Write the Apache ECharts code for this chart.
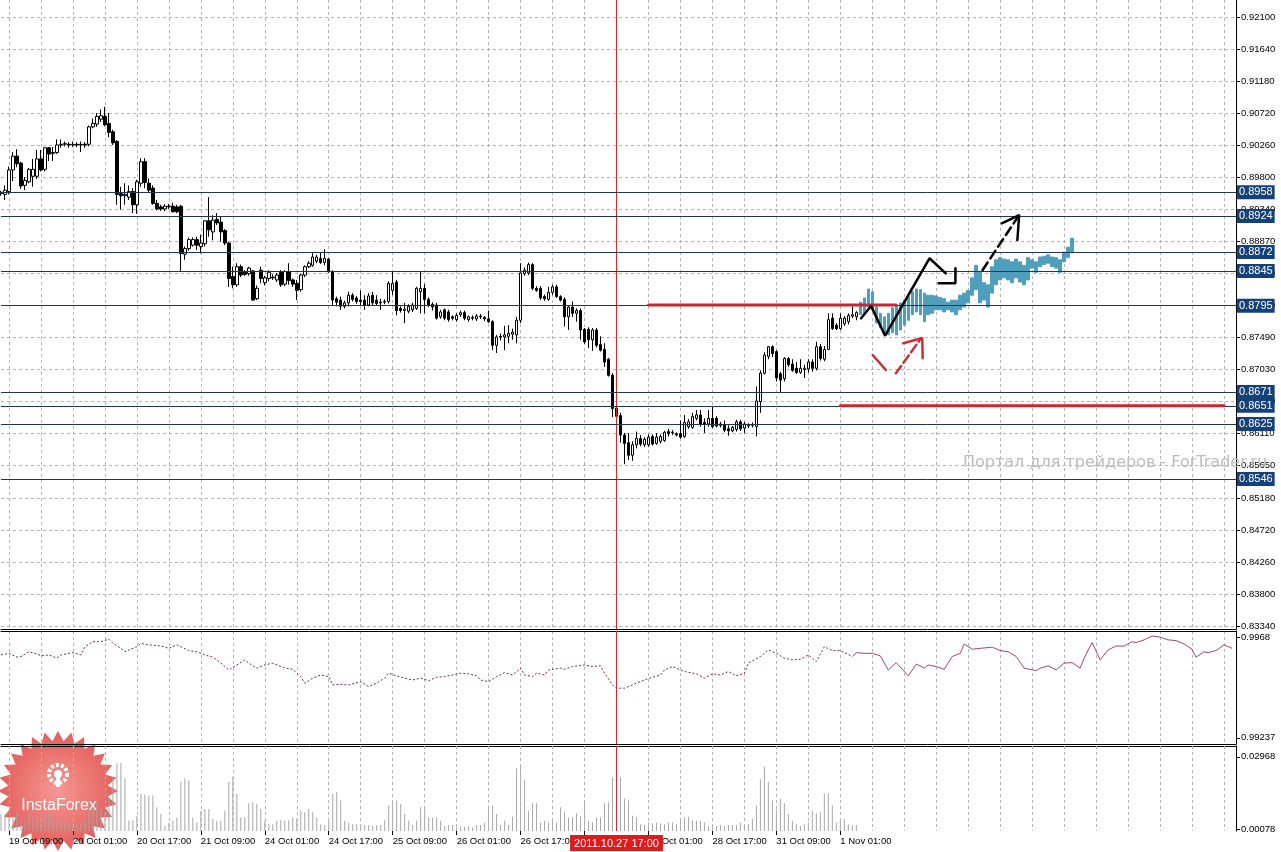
<!DOCTYPE html>
<html><head><meta charset="utf-8">
<script src="https://cdn.jsdelivr.net/npm/echarts@6/dist/echarts.min.js"></script>
<style>html,body{margin:0;padding:0;background:#fff;}#c{width:1281px;height:852px;}</style>
</head><body><div id="c"></div>
<script>
// ---------- data ----------
const timeLabels = ['19 Oct 09:00','20 Oct 01:00','20 Oct 17:00','21 Oct 09:00','24 Oct 01:00','24 Oct 17:00','25 Oct 09:00','26 Oct 01:00','26 Oct 17:00','27 Oct 09:00','28 Oct 01:00','28 Oct 17:00','31 Oct 09:00','1 Nov 01:00'];
const LABEL_START = 2, LABEL_STEP = 16, GRID_STEP = 8, BAR_SLOTS = 310;
const priceTicks = [0.92100,0.91640,0.91180,0.90720,0.90260,0.89800,0.89340,0.88870,0.88410,0.87950,0.87490,0.87030,0.86570,0.86110,0.85650,0.85180,0.84720,0.84260,0.83800,0.83340];
const levels = [0.8958,0.8924,0.8872,0.8845,0.8795,0.8671,0.8651,0.8625,0.8546];
// candles: [open, close, low, high]
const candles = [
[0.8956,0.8958,0.8953,0.8960],[0.8955,0.8961,0.8947,0.8968],[0.8959,0.8990,0.8955,0.8995],[0.8990,0.9010,0.8974,0.9016],
[0.9010,0.8999,0.8994,0.9020],[0.9000,0.8967,0.8963,0.9002],[0.8968,0.8975,0.8961,0.8980],[0.8973,0.8991,0.8971,0.8993],
[0.8981,0.8991,0.8966,0.9006],[0.8981,0.9006,0.8977,0.9019],[0.9006,0.8990,0.8988,0.9019],[0.8991,0.9022,0.8988,0.9023],
[0.9022,0.9013,0.9003,0.9023],[0.9015,0.9014,0.9003,0.9023],[0.9015,0.9026,0.9013,0.9034],[0.9026,0.9027,0.9022,0.9034],
[0.9027,0.9028,0.9024,0.9031],[0.9027,0.9026,0.9022,0.9030],[0.9026,0.9027,0.9023,0.9031],[0.9027,0.9026,0.9023,0.9030],
[0.9026,0.9027,0.9016,0.9031],[0.9027,0.9026,0.9022,0.9030],[0.9027,0.9052,0.9024,0.9054],[0.9052,0.9057,0.9050,0.9064],
[0.9056,0.9067,0.9052,0.9072],[0.9063,0.9068,0.9059,0.9077],[0.9067,0.9055,0.9053,0.9081],[0.9057,0.9044,0.9037,0.9072],
[0.9045,0.9029,0.9026,0.9048],[0.9031,0.8955,0.8940,0.9033],[0.8956,0.8953,0.8933,0.8966],[0.8953,0.8955,0.8940,0.8971],
[0.8951,0.8959,0.8947,0.8968],[0.8959,0.8940,0.8928,0.8964],[0.8940,0.8973,0.8927,0.8976],[0.8971,0.9002,0.8966,0.9007],
[0.9002,0.8972,0.8964,0.9007],[0.8971,0.8961,0.8957,0.8978],[0.8964,0.8942,0.8940,0.8968],[0.8942,0.8934,0.8932,0.8947],
[0.8937,0.8934,0.8931,0.8940],[0.8934,0.8938,0.8931,0.8941],[0.8938,0.8937,0.8934,0.8941],[0.8938,0.8930,0.8929,0.8943],
[0.8937,0.8930,0.8928,0.8940],[0.8938,0.8870,0.8844,0.8940],[0.8869,0.8877,0.8861,0.8880],[0.8877,0.8890,0.8874,0.8893],
[0.8882,0.8890,0.8880,0.8893],[0.8890,0.8882,0.8875,0.8894],[0.8880,0.8885,0.8870,0.8897],[0.8884,0.8917,0.8880,0.8918],
[0.8917,0.8904,0.8894,0.8951],[0.8901,0.8918,0.8889,0.8925],[0.8919,0.8914,0.8911,0.8928],[0.8915,0.8901,0.8887,0.8923],
[0.8903,0.8885,0.8882,0.8905],[0.8885,0.8834,0.8822,0.8887],[0.8837,0.8825,0.8820,0.8851],[0.8825,0.8851,0.8822,0.8856],
[0.8851,0.8839,0.8836,0.8854],[0.8843,0.8840,0.8838,0.8846],[0.8841,0.8849,0.8838,0.8851],[0.8845,0.8803,0.8802,0.8846],
[0.8805,0.8820,0.8803,0.8824],[0.8846,0.8834,0.8827,0.8851],[0.8828,0.8835,0.8824,0.8838],[0.8834,0.8843,0.8830,0.8846],
[0.8836,0.8835,0.8832,0.8840],[0.8832,0.8839,0.8829,0.8842],[0.8843,0.8825,0.8822,0.8846],[0.8826,0.8844,0.8823,0.8846],
[0.8844,0.8831,0.8825,0.8856],[0.8832,0.8826,0.8822,0.8834],[0.8827,0.8817,0.8803,0.8832],[0.8818,0.8839,0.8815,0.8841],
[0.8839,0.8851,0.8836,0.8853],[0.8851,0.8856,0.8849,0.8859],[0.8853,0.8865,0.8851,0.8871],[0.8859,0.8865,0.8856,0.8868],
[0.8863,0.8857,0.8855,0.8872],[0.8857,0.8863,0.8853,0.8876],[0.8862,0.8844,0.8842,0.8864],[0.8844,0.8803,0.8796,0.8846],
[0.8805,0.8800,0.8794,0.8808],[0.8803,0.8794,0.8789,0.8808],[0.8794,0.8799,0.8791,0.8802],[0.8799,0.8810,0.8794,0.8815],
[0.8810,0.8804,0.8801,0.8813],[0.8806,0.8801,0.8798,0.8809],[0.8803,0.8801,0.8796,0.8817],[0.8803,0.8796,0.8789,0.8810],
[0.8796,0.8809,0.8794,0.8813],[0.8810,0.8799,0.8796,0.8815],[0.8803,0.8798,0.8796,0.8810],[0.8799,0.8800,0.8789,0.8805],
[0.8800,0.8801,0.8797,0.8804],[0.8801,0.8827,0.8798,0.8830],[0.8817,0.8827,0.8810,0.8844],[0.8829,0.8788,0.8781,0.8832],
[0.8791,0.8788,0.8785,0.8794],[0.8788,0.8790,0.8770,0.8799],[0.8787,0.8794,0.8784,0.8797],[0.8789,0.8796,0.8786,0.8799],
[0.8791,0.8820,0.8789,0.8822],[0.8815,0.8820,0.8784,0.8844],[0.8820,0.8804,0.8784,0.8826],[0.8804,0.8796,0.8793,0.8807],
[0.8797,0.8793,0.8788,0.8800],[0.8796,0.8777,0.8775,0.8799],[0.8779,0.8786,0.8776,0.8789],[0.8789,0.8777,0.8774,0.8791],
[0.8786,0.8775,0.8772,0.8789],[0.8779,0.8777,0.8774,0.8781],[0.8775,0.8781,0.8772,0.8784],[0.8782,0.8785,0.8779,0.8788],
[0.8785,0.8777,0.8774,0.8788],[0.8775,0.8779,0.8772,0.8781],[0.8778,0.8777,0.8774,0.8781],[0.8776,0.8780,0.8773,0.8783],
[0.8780,0.8779,0.8776,0.8783],[0.8778,0.8776,0.8773,0.8780],[0.8776,0.8772,0.8770,0.8788],[0.8772,0.8738,0.8731,0.8774],
[0.8738,0.8750,0.8727,0.8753],[0.8751,0.8750,0.8745,0.8755],[0.8750,0.8753,0.8731,0.8766],[0.8751,0.8755,0.8741,0.8767],
[0.8754,0.8757,0.8746,0.8762],[0.8753,0.8774,0.8741,0.8779],[0.8774,0.8842,0.8770,0.8856],[0.8841,0.8846,0.8838,0.8850],
[0.8842,0.8854,0.8839,0.8857],[0.8854,0.8820,0.8817,0.8856],[0.8820,0.8817,0.8815,0.8823],[0.8820,0.8806,0.8803,0.8823],
[0.8808,0.8805,0.8802,0.8811],[0.8804,0.8814,0.8802,0.8822],[0.8814,0.8822,0.8810,0.8825],[0.8822,0.8808,0.8806,0.8825],
[0.8808,0.8803,0.8801,0.8810],[0.8804,0.8779,0.8765,0.8807],[0.8779,0.8793,0.8760,0.8796],[0.8793,0.8784,0.8779,0.8801],
[0.8784,0.8788,0.8772,0.8791],[0.8788,0.8760,0.8746,0.8791],[0.8761,0.8743,0.8740,0.8763],[0.8761,0.8746,0.8734,0.8764],
[0.8746,0.8760,0.8730,0.8763],[0.8760,0.8738,0.8735,0.8763],[0.8739,0.8731,0.8729,0.8751],[0.8732,0.8714,0.8707,0.8741],
[0.8718,0.8695,0.8693,0.8720],[0.8695,0.8647,0.8635,0.8698],[0.8648,0.8636,0.8634,0.8650],[0.8637,0.8609,0.8598,0.8641],
[0.8609,0.8597,0.8567,0.8612],[0.8598,0.8580,0.8573,0.8612],[0.8580,0.8595,0.8572,0.8600],[0.8595,0.8604,0.8590,0.8614],
[0.8604,0.8596,0.8593,0.8609],[0.8595,0.8603,0.8592,0.8606],[0.8595,0.8606,0.8592,0.8610],[0.8607,0.8596,0.8594,0.8610],
[0.8597,0.8606,0.8595,0.8612],[0.8600,0.8607,0.8597,0.8610],[0.8601,0.8613,0.8599,0.8615],[0.8614,0.8611,0.8607,0.8618],
[0.8612,0.8613,0.8609,0.8616],[0.8611,0.8609,0.8607,0.8613],[0.8611,0.8606,0.8604,0.8630],[0.8607,0.8627,0.8605,0.8638],
[0.8621,0.8628,0.8618,0.8632],[0.8620,0.8636,0.8618,0.8641],[0.8633,0.8638,0.8630,0.8645],[0.8638,0.8625,0.8621,0.8645],
[0.8627,0.8625,0.8612,0.8633],[0.8625,0.8633,0.8621,0.8645],[0.8633,0.8621,0.8619,0.8650],[0.8633,0.8622,0.8620,0.8636],
[0.8625,0.8623,0.8620,0.8628],[0.8624,0.8616,0.8613,0.8630],[0.8618,0.8615,0.8608,0.8623],[0.8615,0.8620,0.8613,0.8622],
[0.8617,0.8628,0.8614,0.8631],[0.8628,0.8618,0.8615,0.8631],[0.8619,0.8625,0.8612,0.8628],[0.8622,0.8623,0.8619,0.8626],
[0.8623,0.8624,0.8620,0.8627],[0.8621,0.8658,0.8607,0.8679],[0.8657,0.8698,0.8641,0.8702],[0.8698,0.8724,0.8696,0.8728],
[0.8722,0.8736,0.8718,0.8737],[0.8736,0.8726,0.8721,0.8738],[0.8729,0.8691,0.8686,0.8731],[0.8697,0.8688,0.8671,0.8700],
[0.8690,0.8719,0.8686,0.8721],[0.8719,0.8710,0.8707,0.8721],[0.8711,0.8702,0.8700,0.8718],[0.8705,0.8699,0.8697,0.8714],
[0.8699,0.8705,0.8697,0.8718],[0.8703,0.8705,0.8691,0.8710],[0.8704,0.8714,0.8699,0.8718],[0.8714,0.8705,0.8700,0.8718],
[0.8705,0.8736,0.8702,0.8743],[0.8736,0.8719,0.8716,0.8740],[0.8718,0.8732,0.8715,0.8737],[0.8732,0.8775,0.8731,0.8784],
[0.8777,0.8762,0.8760,0.8784],[0.8767,0.8762,0.8760,0.8770],[0.8762,0.8777,0.8760,0.8784],[0.8769,0.8777,0.8766,0.8780],
[0.8772,0.8781,0.8768,0.8784],[0.8780,0.8782,0.8777,0.8794],[0.8779,0.8785,0.8774,0.8787]
];
// forecast bars (cyan) starting at slot 215: [low, high]
const forecastStart = 215;
const forecastRanges = [
[0.8782,0.8800],[0.8784,0.8806],[0.8793,0.8819],[0.8789,0.8815],[0.8770,0.8793],[0.8763,0.8784],[0.8757,0.8779],[0.8753,0.8784],
[0.8756,0.8792],[0.8753,0.8796],[0.8760,0.8799],[0.8767,0.8803],[0.8774,0.8808],[0.8782,0.8815],[0.8786,0.8819],[0.8782,0.8818],
[0.8772,0.8813],[0.8782,0.8810],[0.8784,0.8810],[0.8789,0.8809],[0.8789,0.8807],[0.8786,0.8805],[0.8789,0.8800],[0.8786,0.8803],
[0.8782,0.8803],[0.8789,0.8810],[0.8793,0.8813],[0.8799,0.8817],[0.8810,0.8835],[0.8818,0.8853],[0.8799,0.8843],[0.8803,0.8828],
[0.8793,0.8825],[0.8813,0.8851],[0.8825,0.8861],[0.8832,0.8864],[0.8835,0.8862],[0.8832,0.8861],[0.8828,0.8858],[0.8835,0.8862],
[0.8829,0.8858],[0.8825,0.8853],[0.8832,0.8864],[0.8849,0.8861],[0.8843,0.8858],[0.8851,0.8865],[0.8854,0.8866],[0.8856,0.8868],
[0.8851,0.8865],[0.8849,0.8864],[0.8843,0.8861],[0.8858,0.8872],[0.8864,0.8879],[0.8871,0.8892]
];
const volume = [
0.0068,0.0068,0.0055,0.0060,0.0075,0.0050,0.0040,0.0068,0.0060,0.0055,0.0045,0.0070,0.0068,0.0050,0.0045,0.0040,
0.0034,0.0030,0.0034,0.0027,0.0030,0.0045,0.0110,0.0095,0.0120,0.0085,0.0075,0.0135,0.0217,0.0271,0.0272,0.0210,
0.0041,0.0043,0.0060,0.0149,0.0146,0.0142,0.0142,0.0095,0.0068,0.0020,0.0034,0.0041,0.0054,0.0197,0.0210,0.0204,
0.0054,0.0034,0.0081,0.0088,0.0088,0.0048,0.0041,0.0041,0.0081,0.0197,0.0217,0.0149,0.0054,0.0054,0.0111,0.0115,
0.0109,0.0088,0.0041,0.0027,0.0027,0.0041,0.0043,0.0041,0.0043,0.0054,0.0048,0.0081,0.0075,0.0088,0.0075,0.0054,
0.0027,0.0024,0.0041,0.0149,0.0156,0.0122,0.0041,0.0034,0.0027,0.0027,0.0024,0.0024,0.0024,0.0020,0.0024,0.0024,
0.0043,0.0102,0.0115,0.0122,0.0109,0.0068,0.0041,0.0024,0.0041,0.0095,0.0095,0.0054,0.0054,0.0054,0.0041,0.0020,
0.0024,0.0024,0.0020,0.0016,0.0016,0.0020,0.0014,0.0024,0.0024,0.0034,0.0102,0.0102,0.0068,0.0024,0.0041,0.0024,
0.0057,0.0251,0.0258,0.0204,0.0081,0.0111,0.0111,0.0034,0.0041,0.0034,0.0041,0.0034,0.0095,0.0075,0.0054,0.0054,
0.0071,0.0060,0.0115,0.0041,0.0034,0.0054,0.0054,0.0111,0.0115,0.0214,0.0150,0.0214,0.0129,0.0122,0.0061,0.0054,
0.0027,0.0024,0.0034,0.0030,0.0034,0.0030,0.0027,0.0034,0.0034,0.0027,0.0048,0.0054,0.0057,0.0043,0.0041,0.0041,
0.0034,0.0020,0.0024,0.0020,0.0024,0.0020,0.0024,0.0024,0.0024,0.0034,0.0024,0.0027,0.0048,0.0102,0.0207,0.0258,
0.0197,0.0122,0.0084,0.0129,0.0111,0.0068,0.0041,0.0027,0.0020,0.0027,0.0034,0.0081,0.0071,0.0075,0.0149,0.0152,
0.0102,0.0034,0.0041,0.0048,0.0027,0.0024,0.0024
];
const volTicks = [0, 0.00078, 0.02968];
const indTicks = [0.99237, 0.9968];
// indicator: [slot, value]
const indHistory = [[0,0.99601],[2,0.99608],[4,0.99591],[5,0.99594],[7,0.99615],[9,0.99605],[10,0.99597],[12,0.99601],[14,0.99587],[15,0.99601],[17,0.99608],[18,0.99611],[20,0.99601],[21,0.99637],[23,0.99659],[25,0.99659],[27,0.99670],[28,0.99652],[30,0.99630],[31,0.99615],[32,0.99623],[34,0.99637],[35,0.99652],[37,0.99645],[40,0.99640],[42,0.99630],[44,0.99645],[45,0.99637],[47,0.99620],[49,0.99615],[51,0.99601],[53,0.99591],[55,0.99565],[57,0.99535],[59,0.99557],[61,0.99579],[62,0.99565],[64,0.99543],[66,0.99557],[68,0.99565],[70,0.99550],[71,0.99543],[73,0.99538],[75,0.99506],[76,0.99477],[78,0.99499],[80,0.99513],[82,0.99506],[83,0.99469],[85,0.99472],[87,0.99469],[90,0.99484],[92,0.99462],[94,0.99477],[96,0.99499],[97,0.99521],[99,0.99509],[101,0.99499],[103,0.99491],[105,0.99499],[107,0.99488],[109,0.99503],[111,0.99506],[113,0.99513],[115,0.99521],[117,0.99518],[119,0.99509],[120,0.99491],[122,0.99484],[124,0.99506],[126,0.99523],[128,0.99513],[130,0.99543],[131,0.99513],[133,0.99506],[134,0.99521],[136,0.99513],[137,0.99535],[140,0.99543],[141,0.99538],[143,0.99550],[146,0.99557],[148,0.99550],[150,0.99553],[151,0.99521],[153,0.99469],[154,0.99455],[156,0.99455],[157,0.99462],[158,0.99469],[159,0.99477],[161,0.99491],[163,0.99503],[165,0.99513],[166,0.99535],[168,0.99550],[170,0.99535],[171,0.99528],[174,0.99518],[176,0.99499],[178,0.99518],[180,0.99513],[182,0.99528],[184,0.99509],[186,0.99521],[187,0.99565],[190,0.99594],[192,0.99623],[194,0.99608],[196,0.99587],[198,0.99579],[200,0.99582],[202,0.99601],[204,0.99572],[206,0.99637],[208,0.99620],[210,0.99620],[213,0.99594]];
const indForecast = [[213,0.99594],[214,0.99611],[216,0.99608],[218,0.99608],[220,0.99597],[222,0.99535],[224,0.99567],[227,0.99509],[229,0.99561],[231,0.99543],[232,0.99557],[234,0.99550],[236,0.99538],[238,0.99594],[240,0.99608],[241,0.99649],[243,0.99626],[245,0.99630],[248,0.99635],[250,0.99620],[252,0.99615],[254,0.99594],[256,0.99543],[259,0.99532],[260,0.99543],[262,0.99553],[264,0.99535],[266,0.99565],[268,0.99567],[270,0.99543],[271,0.99587],[273,0.99655],[275,0.99579],[277,0.99623],[279,0.99640],[281,0.99640],[283,0.99659],[284,0.99655],[286,0.99667],[288,0.99684],[290,0.99679],[292,0.99667],[294,0.99664],[296,0.99649],[298,0.99626],[299,0.99591],[301,0.99615],[302,0.99611],[304,0.99620],[306,0.99645],[308,0.99630]];
// drawn objects: [slot, price]
const markerSlot = 154, markerText = '2011.10.27 17:00';
const redLineUpper = [[162,0.8796],[224,0.8796]];
const redLineLower = [[210,0.8651],[306,0.8651]];
const arrowSolid = [[215.2,0.87768],[217.7,0.87945],[221.2,0.87518],[232.3,0.88631],[236.4,0.88415]];
const arrowSolidHead = [[234.6,0.88272],[238.8,0.88272],[238.8,0.88487]];
const arrowDashed = [[245.6,0.88463],[254.75,0.89253]];
const arrowDashedHead = [[250.4,0.89134],[254.75,0.89253],[254.3,0.88894]];
const redArrowA = [[218.1,0.87241],[221.4,0.87025]];
const redArrowB = [[223.9,0.86978],[230.2,0.87481]];
const redArrowHead = [[225.75,0.87409],[230.5,0.87485],[230.6,0.87193]];
const watermark = 'Портал для трейдеров - ForTrader.ru';
const logoText = 'InstaForex';

// ---------- chart ----------
const slots = Array.from({length: BAR_SLOTS}, (_, i) => String(i));
const isLabelSlot = i => i >= LABEL_START && (i - LABEL_START) % LABEL_STEP === 0 && (i - LABEL_START) / LABEL_STEP < timeLabels.length;
const isGridSlot = i => (i - LABEL_START) % GRID_STEP === 0 && i >= LABEL_START;
const FONT = 'Liberation Sans';
const gridLine = {show: true, interval: (i) => isGridSlot(i), lineStyle: {color: '#b4b4b4', type: [3, 3], width: 1}};
const forecastData = Array.from({length: forecastStart}, () => '-').concat(forecastRanges.map(r => [r[0], r[1], r[0], r[1]]));

const G = {left: 1, width: 1235};
function catAxis(gi, extra) {
  return Object.assign({type: 'category', gridIndex: gi, data: slots, boundaryGap: false,
    axisLine: {show: true, onZero: false, lineStyle: {color: '#000', width: 1}},
    axisTick: {show: false}, axisLabel: {show: false}, splitLine: gridLine}, extra || {});
}
const axisLineOnly = (gi) => ({type: 'category', gridIndex: gi, data: slots, boundaryGap: false, position: 'top',
  axisLine: {show: true, onZero: false, lineStyle: {color: '#000'}}, axisTick: {show: false}, axisLabel: {show: false}, splitLine: {show: false}});

const labelStyle = {color: '#000', fontSize: 9.5, fontFamily: FONT};
const lineSeries = (data, color, width, type, z) => ({type: 'line', xAxisIndex: 5, yAxisIndex: 0, data, symbol: 'none',
  lineStyle: {color, width, type: type || 'solid', cap: 'round'}, z: z || 6, silent: true, animation: false});

const levelMarks = levels.map(v => ({
  yAxis: v,
  lineStyle: {color: '#1d3852', width: 1, type: 'solid'},
  label: {show: true, position: 'end', distance: 1, formatter: v.toFixed(4), color: '#fff', backgroundColor: '#15417a',
    padding: [2, 2, 1, 2], fontSize: 11, fontFamily: FONT}
}));

const option = {
  animation: false,
  backgroundColor: '#fff',
  grid: [
    Object.assign({top: 0, height: 629}, G),
    Object.assign({top: 631, height: 113}, G),
    Object.assign({top: 746, height: 85}, G)
  ],
  xAxis: [
    catAxis(0),
    catAxis(1),
    catAxis(2, {z: 20, axisLine: {show: false},
      axisTick: {show: true, length: 4, interval: (i) => isLabelSlot(i), lineStyle: {color: '#000'}},
      axisLabel: Object.assign({show: true, interval: (i) => isLabelSlot(i), align: 'left', margin: 5,
        formatter: (v, i) => timeLabels[(i - LABEL_START) / LABEL_STEP] || ''}, labelStyle)}),
    axisLineOnly(1),
    axisLineOnly(2),
    {type: 'value', gridIndex: 0, min: 0, max: BAR_SLOTS - 1, show: false}
  ],
  yAxis: [
    {type: 'value', gridIndex: 0, position: 'right', min: 0.83302, max: 0.92344, scale: true,
      axisLine: {show: true, onZero: false, lineStyle: {color: '#000'}},
      axisTick: {show: true, length: 4, customValues: priceTicks, lineStyle: {color: '#000'}},
      axisLabel: Object.assign({customValues: priceTicks, formatter: v => v.toFixed(5), margin: 5}, labelStyle),
      splitLine: {show: true, lineStyle: {color: '#b4b4b4', type: [3, 3]}}},
    {type: 'value', gridIndex: 1, position: 'right', min: 0.99210, max: 0.99706, scale: true,
      axisLine: {show: true, onZero: false, lineStyle: {color: '#000'}},
      axisTick: {show: true, length: 4, customValues: indTicks, lineStyle: {color: '#000'}},
      axisLabel: Object.assign({customValues: indTicks, formatter: v => String(v), margin: 5}, labelStyle),
      splitLine: {show: false}},
    {type: 'value', gridIndex: 2, position: 'right', min: 0, max: 0.034,
      axisLine: {show: true, onZero: false, lineStyle: {color: '#000'}},
      axisTick: {show: true, length: 4, customValues: volTicks, lineStyle: {color: '#000'}},
      axisLabel: Object.assign({customValues: volTicks, formatter: v => v === 0 ? '0.00' : String(v), margin: 5}, labelStyle),
      splitLine: {show: false}}
  ],
  graphic: [
    {type: 'text', left: 963, top: 455, silent: true, z: 1,
      style: {text: watermark, fill: '#bdbdbd', font: '16px "DejaVu Sans"'}},
    (function () {
      const pts = [], spikes = 28, cx = 58, cy = 791;
      for (let k = 0; k < spikes * 2; k++) {
        const r = k % 2 ? 50 : 60, a = Math.PI * k / spikes - Math.PI / 2;
        pts.push([cx + r * Math.cos(a), cy + r * Math.sin(a)]);
      }
      return {type: 'group', z: -1, silent: true, children: [
        {type: 'polygon', z: -1, shape: {points: pts}, style: {
          fill: {type: 'radial', x: 0.5, y: 0.5, r: 0.5, colorStops: [{offset: 0, color: 'rgba(244,140,134,0.9)'}, {offset: 1, color: 'rgba(224,78,74,0.9)'}]}}},
        {type: 'circle', z: -1, shape: {cx: 58, cy: 774, r: 9}, style: {fill: 'none', stroke: '#fff', lineWidth: 4, lineDash: [3, 2]}},
        {type: 'circle', z: -1, shape: {cx: 58, cy: 774, r: 4}, style: {fill: '#fff'}},
        {type: 'rect', z: -1, shape: {x: 56, y: 776, width: 4, height: 11}, style: {fill: '#fff'}},
        {type: 'text', z: -1, style: {text: logoText, x: 59, y: 806, fill: '#fff', font: '16px "Liberation Sans"', align: 'center', verticalAlign: 'middle'}}
      ]};
    })()
  ],
  series: [
    {type: 'candlestick', name: 'price', xAxisIndex: 0, yAxisIndex: 0, data: candles, barWidth: 3, z: 3,
      itemStyle: {color: '#fff', color0: '#000', borderColor: '#000', borderColor0: '#000', borderWidth: 1}},
    {type: 'candlestick', name: 'forecast', xAxisIndex: 0, yAxisIndex: 0, data: forecastData, barWidth: 3, z: 4,
      itemStyle: {color: '#4f9fbc', color0: '#4f9fbc', borderColor: '#4f9fbc', borderColor0: '#4f9fbc', borderWidth: 1}},
    Object.assign(lineSeries(redLineUpper, '#c9272f', 3), {markLine: {silent: true, symbol: 'none', animation: false, precision: 5,
      data: [{xAxis: markerSlot, lineStyle: {color: '#d42a2a', width: 1, type: 'solid'}, label: {show: false}}].concat(levelMarks)}}),
    lineSeries(redLineLower, '#c9272f', 3),
    lineSeries(arrowSolid, '#000', 2.5),
    lineSeries(arrowSolidHead, '#000', 2.5),
    lineSeries(arrowDashed, '#000', 2.5, [9, 5]),
    lineSeries(arrowDashedHead, '#000', 2.5),
    lineSeries(redArrowA, '#c8303a', 2.5),
    lineSeries(redArrowB, '#c8303a', 2.5, [9, 4]),
    lineSeries(redArrowHead, '#c8303a', 2.5),
    {type: 'line', xAxisIndex: 1, yAxisIndex: 1, data: indHistory, symbol: 'none', silent: true,
      lineStyle: {color: '#6e2b48', width: 1, type: [2, 2]},
      markLine: {silent: true, symbol: 'none', animation: false,
        data: [{xAxis: markerSlot, lineStyle: {color: '#d42a2a', width: 1, type: 'solid'}, label: {show: false}}]}},
    {type: 'line', xAxisIndex: 1, yAxisIndex: 1, data: indForecast, symbol: 'none', silent: true,
      lineStyle: {color: '#a3476f', width: 1}},
    {type: 'bar', xAxisIndex: 2, yAxisIndex: 2, data: volume, barWidth: 1, silent: true,
      itemStyle: {color: '#a6a6a6'},
      markLine: {silent: true, symbol: 'none', animation: false, z: 60,
        data: [{xAxis: markerSlot, lineStyle: {color: '#d42a2a', width: 1, type: 'solid'},
          label: {show: true, position: 'start', distance: 4, formatter: markerText, color: '#fff', backgroundColor: '#e0191b',
            padding: [3, 4, 2, 4], fontSize: 11, fontFamily: FONT}}]}}
  ]
};
const chart = echarts.init(document.getElementById('c'), null, {renderer: 'canvas'});
chart.setOption(option);
</script>
</body></html>
